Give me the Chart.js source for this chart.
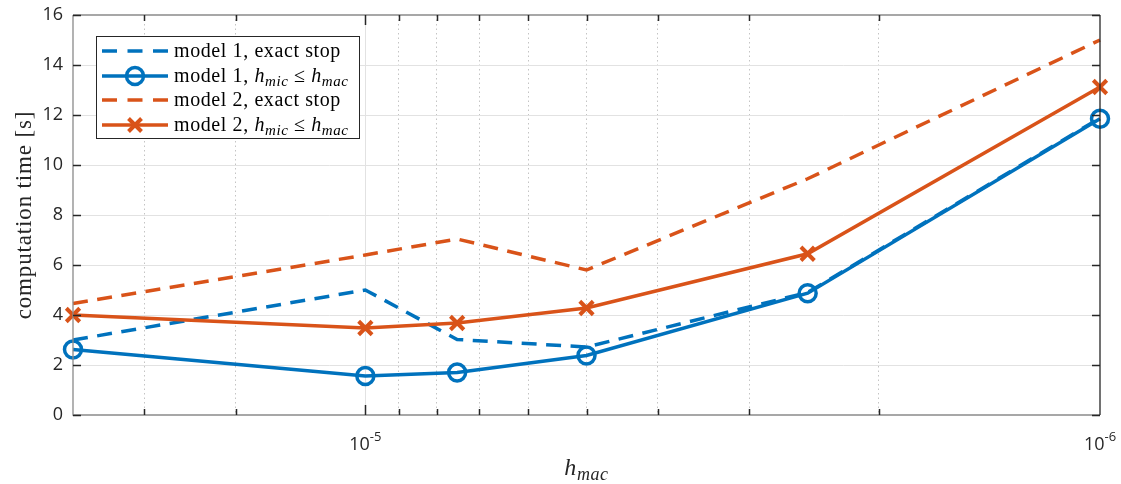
<!DOCTYPE html>
<html>
<head>
<meta charset="utf-8">
<script src="https://cdn.jsdelivr.net/npm/chart.js@4.4.0/dist/chart.umd.min.js"></script>
<style>
  html, body { margin: 0; padding: 0; background: #fff; }
  #wrap { width: 1121px; height: 484px; }
</style>
</head>
<body>
<div id="wrap"><canvas id="chart"></canvas></div>
<script>
// --- data ---
const hMac = [2.5e-5, 1e-5, 7.5e-6, 5e-6, 2.5e-6, 1e-6];
const model1Exact = [3.0, 5.0, 3.02, 2.72, 4.9, 11.88];
const model1Hmic = [2.62, 1.56, 1.7, 2.38, 4.87, 11.85];
const model2Exact = [4.46, 6.4, 7.04, 5.8, 9.45, 15.0];
const model2Hmic = [4.0, 3.48, 3.68, 4.28, 6.45, 13.12];

const xMin = 1e-6, xMax = 2.5e-5;
const yTicks = [0, 2, 4, 6, 8, 10, 12, 14, 16];
const xMajorTicks = [1e-5, 1e-6];
const xMajorLabels = [['10', '-5'], ['10', '-6']];

const BLUE = '#0072BD';
const ORANGE = '#D95319';
const AX = '#262626';
const SERIF = '"Liberation Serif", "DejaVu Serif", serif';
const SANS = '"Open Sans", "Noto Sans", sans-serif';
const LW = 3.5;
const DASH = [15, 9.5];

function pts(ys) { return hMac.map((x, i) => ({ x: x, y: ys[i] })); }
function isMajor(v) { const l = Math.log10(v); return Math.abs(l - Math.round(l)) < 1e-6; }

// draws a run of text pieces one after the other
function drawRich(ctx, x, y, parts) {
    ctx.textBaseline = 'alphabetic';
    ctx.textAlign = 'left';
    let cx = x;
    parts.forEach(p => {
        ctx.font = p.font;
        ctx.fillText(p.t, cx, y + (p.dy || 0));
        cx += ctx.measureText(p.t).width;
    });
    return cx - x;
}
function richWidth(ctx, parts) {
    let w = 0;
    parts.forEach(p => { ctx.font = p.font; w += ctx.measureText(p.t).width; });
    return w;
}

const regular = '20px ' + SERIF;
const italic = 'italic 20px ' + SERIF;
const sub = 'italic 15px ' + SERIF;
const hmicLeqHmac = [
    { t: 'h', font: italic }, { t: 'mic', font: sub, dy: 4 },
    { t: ' \u2264 ', font: regular },
    { t: 'h', font: italic }, { t: 'mac', font: sub, dy: 4 }
];
const legendRows = [
    { color: BLUE, dash: [15, 10.5], marker: null, text: [{ t: 'model 1, exact stop', font: regular }] },
    { color: BLUE, dash: [], marker: 'circle', text: [{ t: 'model 1, ', font: regular }].concat(hmicLeqHmac) },
    { color: ORANGE, dash: [15, 10.5], marker: null, text: [{ t: 'model 2, exact stop', font: regular }] },
    { color: ORANGE, dash: [], marker: 'cross', text: [{ t: 'model 2, ', font: regular }].concat(hmicLeqHmac) }
];

function drawMarker(ctx, type, x, y, color) {
    ctx.save();
    ctx.strokeStyle = color;
    ctx.setLineDash([]);
    if (type === 'circle') {
        ctx.lineWidth = 3.5;
        ctx.beginPath();
        ctx.arc(x, y, 8.5, 0, Math.PI * 2);
        ctx.stroke();
    } else if (type === 'cross') {
        ctx.lineWidth = 4;
        const d = 6.5;
        ctx.beginPath();
        ctx.moveTo(x - d, y - d); ctx.lineTo(x + d, y + d);
        ctx.moveTo(x - d, y + d); ctx.lineTo(x + d, y - d);
        ctx.stroke();
    }
    ctx.restore();
}

// --- box, inward ticks, tick labels on x, axis titles, legend ---
const matlabAxes = {
    id: 'matlabAxes',
    afterDatasetsDraw(chart) {
        const { ctx, chartArea: a, scales } = chart;
        const xs = scales.x, ys = scales.y;
        ctx.save();
        ctx.setLineDash([]);

        // box lines
        ctx.lineWidth = 1.3;
        ctx.strokeStyle = '#8a8a8a';
        ctx.beginPath();
        ctx.moveTo(a.left, a.top); ctx.lineTo(a.left, a.bottom); ctx.lineTo(a.right, a.bottom);
        ctx.moveTo(a.left, a.top); ctx.lineTo(a.right, a.top);
        ctx.stroke();
        ctx.strokeStyle = AX;
        ctx.beginPath();
        ctx.moveTo(a.right, a.top); ctx.lineTo(a.right, a.bottom);
        ctx.stroke();

        // y ticks, both sides
        ctx.strokeStyle = AX;
        ctx.lineWidth = 1.5;
        ctx.beginPath();
        yTicks.forEach(v => {
            const py = Math.round(ys.getPixelForValue(v)) + 0.5;
            ctx.moveTo(a.left, py); ctx.lineTo(a.left + 8, py);
            ctx.moveTo(a.right, py); ctx.lineTo(a.right - 8, py);
        });
        ctx.stroke();

        // x ticks, bottom and top
        ctx.beginPath();
        xs.ticks.forEach(t => {
            if (t.value >= xMax * 0.999 || t.value <= xMin * 1.001) return;
            const px = Math.round(xs.getPixelForValue(t.value)) + 0.5;
            const len = isMajor(t.value) ? 10 : 6;
            ctx.moveTo(px, a.bottom); ctx.lineTo(px, a.bottom - len);
            ctx.moveTo(px, a.top); ctx.lineTo(px, a.top + len);
        });
        ctx.stroke();

        // x tick labels 10^-5, 10^-6
        ctx.fillStyle = AX;
        xMajorTicks.forEach((v, i) => {
            const px = xs.getPixelForValue(v);
            const parts = [
                { t: xMajorLabels[i][0], font: '18px ' + SANS },
                { t: xMajorLabels[i][1], font: '13px ' + SANS, dy: -9 }
            ];
            const w = richWidth(ctx, parts);
            drawRich(ctx, px - w / 2, a.bottom + 35, parts);
        });

        // x title
        const xt = [{ t: 'h', font: 'italic 24px ' + SERIF }, { t: 'mac', font: 'italic 18px ' + SERIF, dy: 5 }];
        ctx.letterSpacing = '0.6px';
        const xw = richWidth(ctx, xt);
        drawRich(ctx, (a.left + a.right) / 2 - xw / 2, a.bottom + 60, xt);

        // y title
        ctx.save();
        ctx.translate(31, (a.top + a.bottom) / 2);
        ctx.rotate(-Math.PI / 2);
        ctx.font = '23px ' + SERIF;
        ctx.letterSpacing = '0.85px';
        ctx.textAlign = 'center';
        ctx.textBaseline = 'alphabetic';
        ctx.fillText('computation time [s]', 0, 0);
        ctx.restore();

        // legend
        const lx = 96, ly = 36, lw = 263, lh = 102;
        ctx.fillStyle = '#ffffff';
        ctx.fillRect(lx, ly, lw, lh);
        ctx.strokeStyle = AX;
        ctx.lineWidth = 1;
        ctx.strokeRect(lx + 0.5, ly + 0.5, lw, lh);
        ctx.letterSpacing = '0.6px';
        legendRows.forEach((r, i) => {
            const cy = Math.round(51 + i * 24.6);
            ctx.strokeStyle = r.color;
            ctx.lineWidth = LW;
            ctx.setLineDash(r.dash);
            ctx.beginPath();
            ctx.moveTo(102, cy); ctx.lineTo(168, cy);
            ctx.stroke();
            ctx.setLineDash([]);
            if (r.marker) drawMarker(ctx, r.marker, 135, cy, r.color);
            ctx.fillStyle = '#000';
            drawRich(ctx, 174, cy + 6, r.text);
        });
        ctx.letterSpacing = '0px';
        ctx.restore();
    }
};

const ctx = document.getElementById('chart').getContext('2d');
new Chart(ctx, {
    type: 'line',
    data: {
        datasets: [
            {
                label: 'model 1, exact stop', data: pts(model1Exact),
                borderColor: BLUE, borderWidth: LW, borderDash: DASH,
                pointRadius: 0, order: 4, clip: false
            },
            {
                label: 'model 1, hmic <= hmac', data: pts(model1Hmic),
                borderColor: BLUE, borderWidth: LW,
                pointStyle: 'circle', pointRadius: 8.5, pointBorderWidth: 3.5,
                pointBackgroundColor: 'rgba(0,0,0,0)', pointBorderColor: BLUE,
                order: 3, clip: false
            },
            {
                label: 'model 2, exact stop', data: pts(model2Exact),
                borderColor: ORANGE, borderWidth: LW, borderDash: DASH,
                pointRadius: 0, order: 2, clip: false
            },
            {
                label: 'model 2, hmic <= hmac', data: pts(model2Hmic),
                borderColor: ORANGE, borderWidth: LW,
                pointStyle: 'crossRot', pointRadius: 9.5, pointBorderWidth: 4,
                pointBorderColor: ORANGE,
                order: 1, clip: false
            }
        ]
    },
    options: {
        responsive: true,
        maintainAspectRatio: false,
        animation: false,
        devicePixelRatio: 1,
        layout: { padding: { top: 15, right: 21, left: 0, bottom: 0 } },
        plugins: { legend: { display: false }, tooltip: { enabled: false } },
        elements: { line: { tension: 0 } },
        scales: {
            x: {
                type: 'logarithmic',
                reverse: true,
                min: xMin,
                max: xMax,
                afterFit: s => { s.height = 69; s.paddingLeft = 0; s.paddingRight = 0; },
                ticks: { display: false, autoSkip: false },
                grid: {
                    drawTicks: false,
                    lineWidth: 1,
                    color: c => {
                        const v = c.tick ? c.tick.value : null;
                        if (v == null || v >= xMax * 0.999 || v <= xMin * 1.001) return 'rgba(0,0,0,0)';
                        return isMajor(v) ? '#e2e2e2' : '#c4c4c4';
                    }
                },
                border: {
                    display: false,
                    dash: c => (c.tick && !isMajor(c.tick.value)) ? [1.5, 3] : []
                }
            },
            y: {
                min: 0,
                max: 16,
                afterFit: s => { s.width = 73; s.paddingTop = 0; s.paddingBottom = 0; },
                afterBuildTicks: s => { s.ticks = yTicks.map(v => ({ value: v })); },
                ticks: {
                    padding: 10,
                    color: AX,
                    font: { family: SANS, size: 18 }
                },
                grid: {
                    drawTicks: false,
                    lineWidth: 1,
                    color: c => (c.tick && (c.tick.value === 0 || c.tick.value === 16)) ? 'rgba(0,0,0,0)' : '#e2e2e2'
                },
                border: { display: false }
            }
        }
    },
    plugins: [matlabAxes]
});
</script>
</body>
</html>
